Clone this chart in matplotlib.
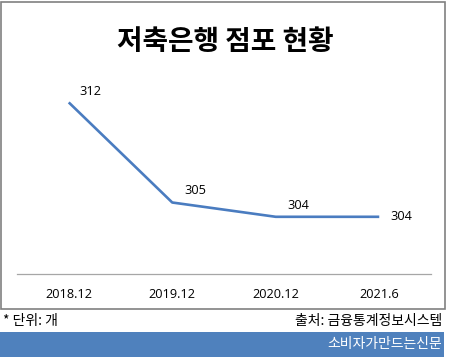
import matplotlib
matplotlib.use("Agg")
import matplotlib.pyplot as plt
from matplotlib.patches import Rectangle

plt.rcParams['font.family'] = ['Noto Sans CJK KR', 'DejaVu Sans']

categories = ['2018.12', '2019.12', '2020.12', '2021.6']
values = [312, 305, 304, 304]
title = '저축은행 점포 현황'
unit_note = '* 단위: 개'
source_note = '출처: 금융통계정보시스템'
banner_text = '소비자가만드는신문'

W, H = 450, 363
fig = plt.figure(figsize=(W/100, H/100), dpi=100)

def fx(px):
    return px / W

def fy(py):
    return 1 - py / H

# outer frame
fig.patches.append(Rectangle((fx(1), fy(309)), fx(445) - fx(1), fy(2) - fy(309),
                             transform=fig.transFigure, fill=False, edgecolor='#808080', lw=1.2))
# banner
fig.patches.append(Rectangle((fx(0), fy(357)), fx(444), fy(332) - fy(357),
                             transform=fig.transFigure, facecolor='#4F81BD', edgecolor='none'))

ax = fig.add_axes([fx(17), fy(274), fx(431) - fx(17), fy(59.5) - fy(274)])
x = list(range(len(categories)))
ax.plot(x, values, color='#4A7CC0', lw=1.9, solid_capstyle='butt')
ax.set_xlim(-0.5, 3.5)
ax.set_ylim(300, 315)
for s in ['top', 'right', 'left']:
    ax.spines[s].set_visible(False)
ax.spines['bottom'].set_color('#A6A6A6')
ax.spines['bottom'].set_linewidth(0.9)
ax.set_yticks([])
ax.set_xticks(x)
ax.set_xticklabels(categories, fontsize=9.2, family=['Open Sans', 'DejaVu Sans'])
ax.tick_params(axis='x', length=0, pad=10, colors='black')
ax.patch.set_alpha(0)

offsets_px = [(22, 11), (23.5, 12), (22.5, 11), (22.5, 0)]
for xi, v, (dx, dy) in zip(x, values, offsets_px):
    ax.annotate(str(v), (xi, v), xytext=(dx * 0.72, dy * 0.72), textcoords='offset points',
                ha='center', va='center', fontsize=9.2, family=['Open Sans', 'DejaVu Sans'])

fig.text(0.5, fy(42), title, ha='center', va='center', fontsize=20, fontweight='bold')
fig.text(fx(3), fy(321), unit_note, ha='left', va='center', fontsize=10)
fig.text(fx(442), fy(321), source_note, ha='right', va='center', fontsize=10)
fig.text(fx(442), fy(344), banner_text, ha='right', va='center', fontsize=10, color='white')

fig.savefig('out.png', dpi=100)
